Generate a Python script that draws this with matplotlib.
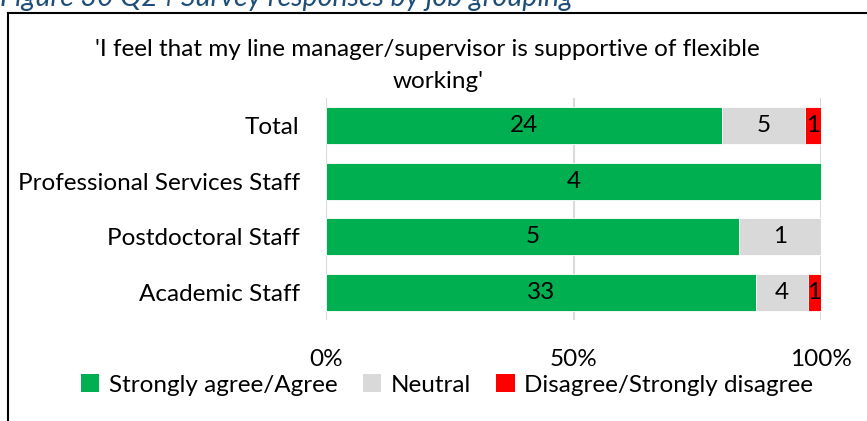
import matplotlib
matplotlib.use("Agg")
import matplotlib.pyplot as plt
from matplotlib.lines import Line2D
from matplotlib.patches import Patch
import numpy as np

plt.rcParams['font.family'] = ['Lato', 'DejaVu Sans']

categories = ["Academic Staff", "Postdoctoral Staff", "Professional Services Staff", "Total"]
agree = [33, 5, 4, 24]
neutral = [4, 1, 0, 5]
disagree = [1, 0, 0, 1]
series_names = ["Strongly agree/Agree", "Neutral", "Disagree/Strongly disagree"]
colors = ["#00B050", "#D9D9D9", "#FF0000"]
xticks = [0, 0.5, 1.0]
xticklabels = ["0%", "50%", "100%"]
title_lines = ["'I feel that my line manager/supervisor is supportive of flexible", "working'"]
caption = "Figure 30 Q24 Survey responses by job grouping"

W, H = 867, 421
FS = 17.5
fig = plt.figure(figsize=(W / 100, H / 100), dpi=100)

def fx(px):
    return px / W

def fy(py):
    return 1 - py / H

ax = fig.add_axes([fx(326), fy(320), fx(821) - fx(326), fy(98) - fy(320)])

data = np.array([agree, neutral, disagree], dtype=float)
totals = data.sum(axis=0)
fracs = data / totals
y = np.arange(len(categories))
left = np.zeros(len(categories))
for i in range(3):
    ax.barh(y, fracs[i], left=left, height=0.67, color=colors[i],
            edgecolor="white", linewidth=0.6, zorder=3, label=series_names[i])
    for j in range(len(categories)):
        if data[i, j] > 0:
            ax.text(left[j] + fracs[i, j] / 2, y[j], f"{int(data[i, j])}",
                    ha="center", va="center", fontsize=FS, color="black", zorder=4)
    left += fracs[i]

ax.set_xlim(0, 1)
ax.set_ylim(-0.5, len(categories) - 0.5)
ax.set_yticks(y)
ax.set_yticklabels(categories, fontsize=FS)
ax.set_xticks(xticks)
ax.set_xticklabels(xticklabels, fontsize=FS)
ax.tick_params(axis="both", length=0)
ax.tick_params(axis="y", pad=19)
ax.tick_params(axis="x", pad=21)
for s in ax.spines.values():
    s.set_visible(False)
for xv in xticks:
    ax.axvline(xv, color="#D9D9D9", linewidth=1.5, zorder=1)

# titles
fig.text(fx(427), fy(50), title_lines[0], ha="center", va="center", fontsize=FS)
fig.text(fx(438), fy(82), title_lines[1], ha="center", va="center", fontsize=FS)

# caption (clipped at top, as in the source)
fig.text(fx(0), fy(6), caption, ha="left", va="baseline", fontsize=20.5,
         style="italic", color="#1F4E79")

# border
fig.add_artist(Line2D([fx(8), fx(8)], [fy(13), fy(440)], color="black", linewidth=1.5))
fig.add_artist(Line2D([fx(8), fx(900)], [fy(13), fy(13)], color="black", linewidth=1.5))

handles = [Patch(facecolor=c, edgecolor="none") for c in colors]
fig.legend(handles, series_names, loc="center", bbox_to_anchor=(fx(447), fy(385)),
           ncol=3, frameon=False, fontsize=FS, handlelength=0.75, handleheight=0.75,
           handletextpad=0.4, columnspacing=1.05, borderaxespad=0)

fig.savefig("out.png", dpi=100)
